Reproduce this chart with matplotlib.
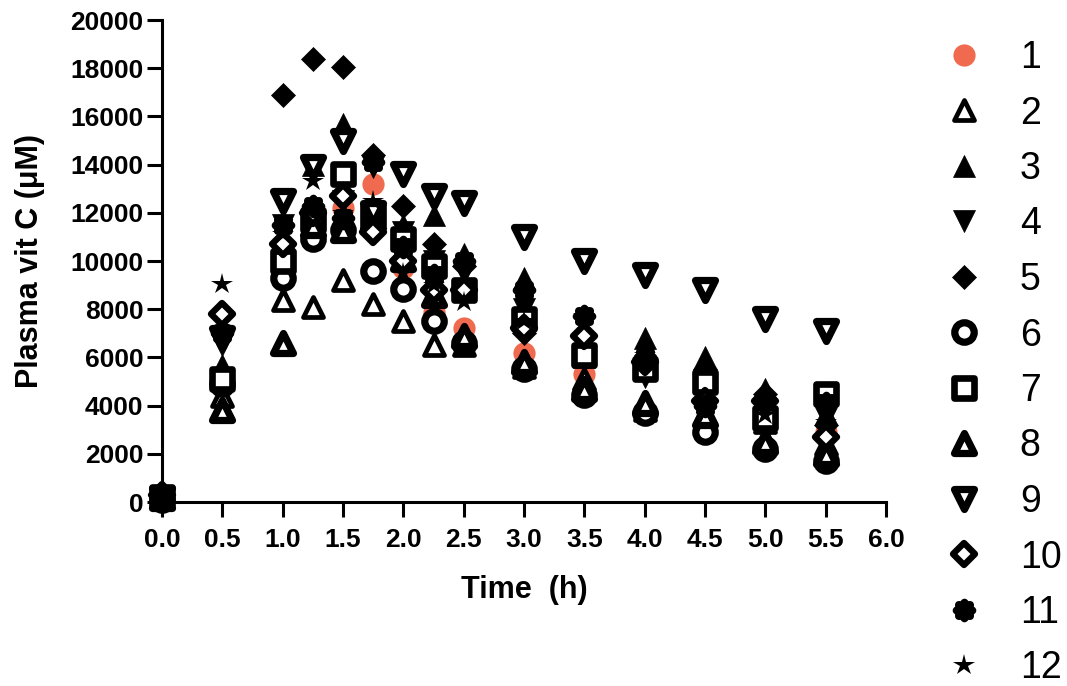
import numpy as np
import matplotlib
matplotlib.use("Agg")
import matplotlib.pyplot as plt
from matplotlib.path import Path
from matplotlib.markers import MarkerStyle

plt.rcParams['font.family'] = ['Liberation Sans', 'DejaVu Sans']

time_h = [0.0, 0.5, 1.0, 1.25, 1.5, 1.75, 2.0, 2.25, 2.5, 3.0, 3.5, 4.0, 4.5, 5.0, 5.5]

s1 = [100, 5000, 10600, 11700, 12200, 13200, 9700, 7900, 7200, 6200, 5300, 3700, 3100, 3400, 2900]
s2 = [200, 4400, 8400, 8100, 9200, 8200, 7500, 6500, 6500, 5600, 5100, 3800, 3700, 3300, 2400]
s3 = [300, 5700, 11000, 14000, 15700, 12200, 11500, 11900, 10300, 9300, 6000, 6800, 6000, 4700, 3700]
s4 = [200, 6500, 11500, 13800, 12500, 13900, 11200, 10000, 9500, 8000, 6500, 5200, 4400, 3900, 3500]
s5 = [250, 7100, 16900, 18400, 18050, 14400, 12300, 10700, 9800, 7000, 6200, 5700, 5500, 4500, 3200]
s6 = [100, 4900, 9300, 10900, 11300, 9600, 8850, 7500, 6600, 5500, 4450, 3700, 2900, 2200, 1700]
s7 = [200, 5100, 10000, 11700, 13600, 11900, 10900, 9800, 8800, 7600, 6100, 5500, 5000, 3500, 4500]
s8 = [150, 3800, 6600, 11500, 11300, 11800, 10100, 8600, 6900, 5800, 4700, 4100, 3600, 2500, 2000]
s9 = [150, 6800, 12500, 13900, 15000, 12000, 13600, 12700, 12400, 11000, 10000, 9400, 8800, 7600, 7100]
s10 = [300, 7800, 10700, 12000, 12700, 11200, 10000, 8800, 8800, 7200, 6900, 5800, 4200, 4200, 2700]
s11 = [200, 7000, 11500, 12300, 11800, 14100, 10600, 9400, 10000, 8800, 7700, 6000, 4000, 4200, 4100]
s12 = [100, 9050, 11100, 13300, 12000, 12500, 9500, 9000, 8300, 7500, 7700, 6100, 4000, 3600, 3300]

series_labels = ['1', '2', '3', '4', '5', '6', '7', '8', '9', '10', '11', '12']
series_values = [s1, s2, s3, s4, s5, s6, s7, s8, s9, s10, s11, s12]

x_ticks = [0.0, 0.5, 1.0, 1.5, 2.0, 2.5, 3.0, 3.5, 4.0, 4.5, 5.0, 5.5, 6.0]
y_ticks = [0, 2000, 4000, 6000, 8000, 10000, 12000, 14000, 16000, 18000, 20000]

# flower marker path
th = np.linspace(0, 2 * np.pi, 200)
r = 1 + 0.17 * np.abs(np.cos(4 * th))
verts = np.column_stack([r * np.cos(th), r * np.sin(th)])
flower = Path(verts, closed=True)

salmon = '#EF6A4E'
W = 'white'
K = 'black'


def ms(m):
    return MarkerStyle(m, joinstyle='round')


styles = [
    dict(marker=ms('o'), ms=16, mfc=salmon, mec=salmon, mew=0),
    dict(marker=ms('^'), ms=14.5, mfc=W, mec=K, mew=3.4),
    dict(marker=ms('^'), ms=16, mfc=K, mec=K, mew=0.5),
    dict(marker=ms('v'), ms=16, mfc=K, mec=K, mew=0.5),
    dict(marker=ms('D'), ms=12.5, mfc=K, mec=K, mew=0.5),
    dict(marker=ms('o'), ms=14, mfc=W, mec=K, mew=5.2),
    dict(marker=ms('s'), ms=14.5, mfc=W, mec=K, mew=4.8),
    dict(marker=ms('^'), ms=14, mfc=W, mec=K, mew=5.2),
    dict(marker=ms('v'), ms=14.5, mfc=W, mec=K, mew=5.2),
    dict(marker=ms('D'), ms=11.5, mfc=W, mec=K, mew=4.6),
    dict(marker=MarkerStyle(flower), ms=17, mfc=K, mec=K, mew=0),
    dict(marker=ms('*'), ms=16, mfc=K, mec=K, mew=0),
]

fig = plt.figure(figsize=(10.67, 6.86), dpi=100)
ax = fig.add_axes([162 / 1067, 1 - 502 / 686, (886 - 162) / 1067, (502 - 20) / 686])

handles = []
for lab, vals, st in zip(series_labels, series_values, styles):
    h, = ax.plot(time_h, vals, linestyle='none', clip_on=False, label=lab, **st)
    handles.append(h)

ax.set_xlim(0, 6.0)
ax.set_ylim(0, 20000)
ax.set_xticks(x_ticks)
ax.set_xticklabels([f'{v:.1f}' for v in x_ticks])
ax.set_yticks(y_ticks)
ax.set_yticklabels([str(v) for v in y_ticks])

for side in ['top', 'right']:
    ax.spines[side].set_visible(False)
for side in ['left', 'bottom']:
    ax.spines[side].set_linewidth(2.2)

ax.tick_params(axis='both', width=2.2, length=10.5, labelsize=19)
ax.tick_params(axis='x', pad=8)
ax.tick_params(axis='y', pad=3)
for lbl in ax.get_xticklabels() + ax.get_yticklabels():
    lbl.set_fontweight('bold')

ax.set_xlabel('Time  (h)', fontsize=22, fontweight='bold', labelpad=17)
ax.set_ylabel('Plasma vit C (μM)', fontsize=22, fontweight='bold', labelpad=18)

fig.legend(handles=handles, labels=series_labels, loc='upper left',
           bbox_to_anchor=(941 / 1067, 1 - 40 / 686), frameon=False,
           fontsize=27, labelspacing=0.52, handlelength=1.2, handletextpad=0.9,
           markerscale=1.0, borderaxespad=0, borderpad=0)

fig.savefig('out.png', dpi=100)
